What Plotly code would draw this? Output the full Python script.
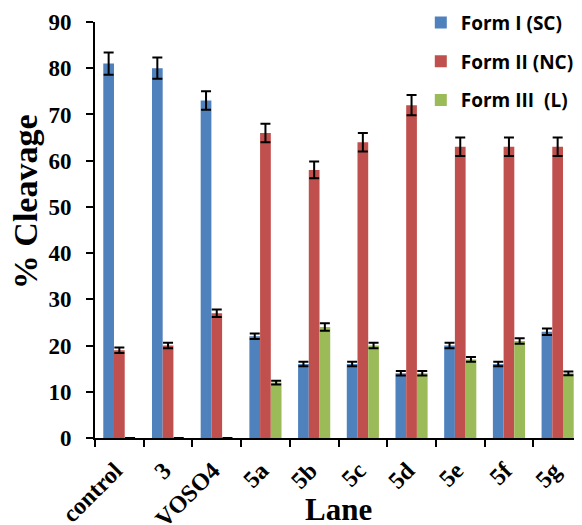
import plotly.graph_objects as go

lanes = ["control", "3", "VOSO4", "5a", "5b", "5c", "5d", "5e", "5f", "5g"]
form1 = [81, 80, 73, 22, 16, 16, 14, 20, 16, 23]
form1_err = [2.4, 2.3, 2.0, 0.6, 0.5, 0.5, 0.5, 0.6, 0.5, 0.7]
form2 = [19, 20, 27, 66, 58, 64, 72, 63, 63, 63]
form2_err = [0.6, 0.6, 0.8, 2.0, 1.8, 2.0, 2.2, 2.0, 2.0, 2.0]
form3 = [0, 0, 0, 12, 24, 20, 14, 17, 21, 14]
form3_err = [None, None, None, 0.4, 0.8, 0.6, 0.5, 0.5, 0.6, 0.4]

series = [
    ("Form I (SC)", form1, form1_err, "#4F81BD"),
    ("Form II (NC)", form2, form2_err, "#C0504D"),
    ("Form III  (L)", form3, form3_err, "#9BBB59"),
]

fig = go.Figure()
for i, (name, vals, errs, color) in enumerate(series):
    fig.add_trace(go.Bar(
        x=lanes, y=vals, name=name, legendgroup=f"g{i}",
        marker=dict(color=color, line=dict(width=0)),
        error_y=dict(type="data", array=errs, visible=True,
                     color="black", thickness=2, width=5),
    ))

serif = "Liberation Serif"
# page body has an 8px default margin, so the figure is drawn 8px in from the window edge
fig.update_layout(
    width=574, height=517,
    margin=dict(l=87, r=0, t=14, b=87, autoexpand=False),
    paper_bgcolor="white", plot_bgcolor="white",
    barmode="group", bargap=0.34, bargroupgap=0,
    showlegend=True,
    legend=dict(x=0.669, y=1.044, xanchor="left", yanchor="top",
                font=dict(family="Open Sans", size=19, color="black", weight="bold"),
                tracegroupgap=11, bgcolor="rgba(0,0,0,0)",
                itemwidth=30),
    xaxis=dict(
        automargin=False,
        showline=True, linecolor="black", linewidth=2,
        ticks="outside", ticklen=7, tickwidth=2, tickcolor="black",
        tickson="boundaries", tickangle=-45,
        ticklabelshift=-4, ticklabelstandoff=7,
        tickfont=dict(family=serif, size=24, color="black", weight="bold"),
        showgrid=False,
    ),
    yaxis=dict(
        automargin=False,
        range=[0, 90], dtick=10,
        showline=True, linecolor="black", linewidth=2,
        ticks="outside", ticklen=7, tickwidth=2, tickcolor="black",
        tickfont=dict(family=serif, size=23, color="black", weight="bold"),
        ticklabelstandoff=10,
        showgrid=False, zeroline=False,
    ),
    annotations=[
        dict(text="Lane", xref="paper", yref="paper", x=0.5, y=-0.173,
             xanchor="center", yanchor="middle", showarrow=False,
             font=dict(family=serif, size=31, color="black", weight="bold")),
        dict(text="% Cleavage", xref="paper", yref="paper", x=-0.1437, y=0.567,
             xanchor="center", yanchor="middle", showarrow=False, textangle=-90,
             font=dict(family=serif, size=34, color="black", weight="bold")),
    ],
)

fig.write_html("out.html")
